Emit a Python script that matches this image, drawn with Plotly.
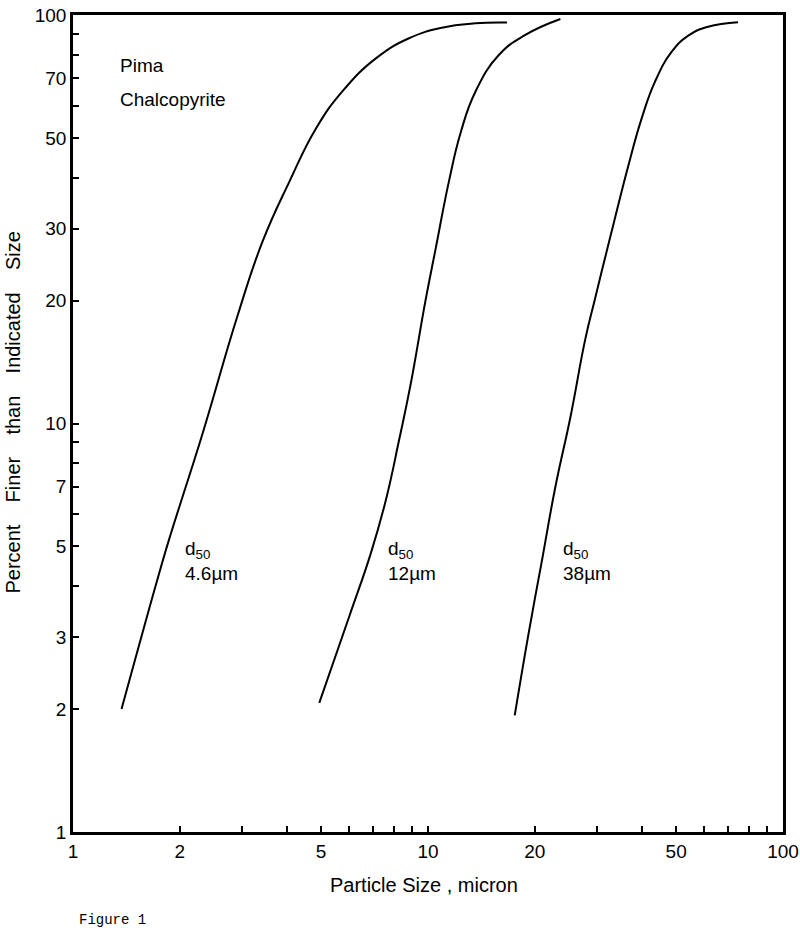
import plotly.graph_objects as go

# Particle size distributions, Pima chalcopyrite
size_d46 = [1.37, 1.77, 1.89, 2.32, 2.91, 3.42, 4.07, 4.84, 5.73, 7.13, 8.84, 10.95, 13.6, 16.7]
finer_d46 = [2.0, 4.46, 5.4, 9.48, 18.4, 27.9, 39.1, 52.8, 64.9, 78.3, 87.7, 93.1, 95.4, 95.8]

size_d12 = [4.94, 6.0, 6.9, 7.61, 8.29, 8.94, 9.85, 10.51, 11.45, 12.38, 13.6, 15.83, 18.8, 23.6]
finer_d12 = [2.07, 3.37, 4.81, 6.5, 9.11, 12.5, 20.1, 26.8, 39.1, 51.8, 64.9, 79.8, 89.4, 97.8]

size_d38 = [17.55, 19.2, 20.95, 22.85, 25.2, 27.7, 29.5, 32.9, 36.7, 40.0, 43.6, 48.6, 54.1, 61.5, 74.7]
finer_d38 = [1.93, 3.06, 4.63, 7.0, 10.39, 16.0, 20.1, 29.5, 42.9, 55.9, 68.7, 81.3, 89.0, 93.6, 96.0]

curves = [(size_d46, finer_d46), (size_d12, finer_d12), (size_d38, finer_d38)]
d50_labels = ["4.6µm", "12µm", "38µm"]

# log-axis ticks: every 1..9 per decade, only some labelled
x_labelled = [1, 2, 5, 10, 20, 50, 100]
y_labelled = [1, 2, 3, 5, 7, 10, 20, 30, 50, 70, 100]
minor_vals = [m * 10 ** d for d in range(2) for m in range(1, 10)] + [100]

FONT = "Liberation Sans, Arial, sans-serif"

fig = go.Figure()
for xs, ys in curves:
    fig.add_trace(go.Scatter(
        x=xs, y=ys,
        mode="lines",
        line=dict(color="black", width=2, shape="spline", smoothing=1.3),
        showlegend=False,
        hoverinfo="skip",
    ))

axis_common = dict(
    type="log",
    automargin=False,
    showline=True,
    linecolor="black",
    linewidth=2.5,
    mirror=True,
    ticks="inside",
    ticklen=6,
    tickwidth=1.5,
    tickcolor="black",
    showgrid=False,
    zeroline=False,
    ticklabeloverflow="allow",
    tickfont=dict(family=FONT, size=19, color="black"),
    tickvals=minor_vals,
)
fig.update_xaxes(
    range=[0, 2],
    ticktext=[str(v) if v in x_labelled else "" for v in minor_vals],
    **axis_common,
)
fig.update_yaxes(
    range=[0, 2],
    ticktext=[str(v) if v in y_labelled else "" for v in minor_vals],
    **axis_common,
)

annotations = [
    dict(text="Pima", x=0.063, y=0.938),
    dict(text="Chalcopyrite", x=0.063, y=0.896),
]
for xp, lab in zip([0.1545, 0.441, 0.687], d50_labels):
    annotations.append(dict(text=f"d<sub>50</sub><br>{lab}", x=xp, y=0.332))
for a in annotations:
    a.update(xref="paper", yref="paper", xanchor="left", yanchor="middle",
             align="left", showarrow=False,
             font=dict(family=FONT, size=19, color="black"))

gap = "\u00a0" * 4
annotations += [
    dict(text="Particle Size , micron", x=0.494, y=-0.065, xref="paper", yref="paper",
         xanchor="center", yanchor="middle", showarrow=False,
         font=dict(family=FONT, size=20, color="black")),
    dict(text=gap.join(["Percent", "Finer", "than", "Indicated", "Size"]),
         x=-0.085, y=0.513, xref="paper", yref="paper", textangle=-90,
         xanchor="center", yanchor="middle", showarrow=False,
         font=dict(family=FONT, size=20, color="black")),
    dict(text="Figure 1", x=0.0056, y=-0.108, xref="paper", yref="paper",
         xanchor="left", yanchor="middle", showarrow=False,
         font=dict(family="Liberation Mono, monospace", size=14, color="black")),
]

fig.update_layout(
    width=800,
    height=933,
    margin=dict(l=73, r=17, t=15, b=101),
    paper_bgcolor="white",
    plot_bgcolor="white",
    annotations=annotations,
)

# the page body has a default margin; drop it so the figure fills the window
fig.write_html(
    "out.html",
    config={"displayModeBar": False},
    post_script="document.body.style.margin='0';",
)
